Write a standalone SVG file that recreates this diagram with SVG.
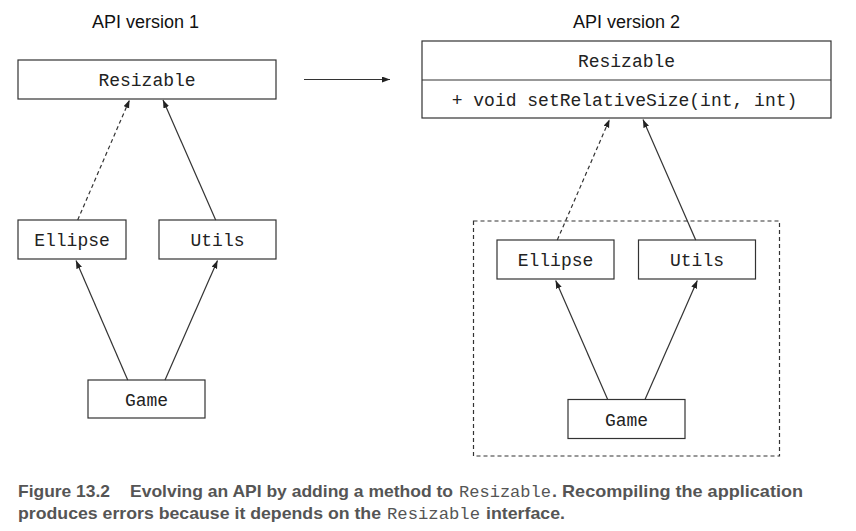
<svg xmlns="http://www.w3.org/2000/svg" width="856" height="531" viewBox="0 0 856 531">
<style>
.box{fill:#fff;stroke:#333;stroke-width:1.2}
.mono{font-family:"Liberation Mono","Courier New",monospace;font-size:18px;fill:#222;text-anchor:middle}
.title{font-family:"Liberation Sans",Arial,sans-serif;font-size:18px;fill:#111;text-anchor:middle}
.ln{fill:none;stroke:#333;stroke-width:1.2}
.dash{stroke-dasharray:4 3}
.cap{font-family:"Liberation Sans Narrow","Liberation Sans",Arial,sans-serif;font-weight:bold;font-size:17px;fill:#555}
.capm{font-family:"Liberation Mono","Courier New",monospace;font-size:16.5px;fill:#555}
</style>
<defs>
<marker id="ah" markerUnits="userSpaceOnUse" markerWidth="9" markerHeight="7" refX="8" refY="3" orient="auto">
<path d="M0,0 L8,3 L0,6 z" fill="#222"/>
</marker>
</defs>
<text class="title" x="145.5" y="27.5">API version 1</text>
<text class="title" x="626.5" y="27.5">API version 2</text>

<g id="resizable1"><rect class="box" x="18" y="60" width="258" height="39"/><text class="mono" x="147" y="86">Resizable</text></g>
<g id="ellipse1"><rect class="box" x="18" y="220" width="108" height="39"/><text class="mono" x="72" y="246">Ellipse</text></g>
<g id="utils1"><rect class="box" x="159" y="220" width="117" height="39"/><text class="mono" x="217.5" y="246">Utils</text></g>
<g id="game1"><rect class="box" x="88" y="380" width="117" height="38"/><text class="mono" x="146.5" y="405.5">Game</text></g>

<g id="container2"><rect x="473.5" y="221" width="306" height="235" fill="none" stroke="#333" stroke-width="1.2" stroke-dasharray="4 3"/></g>
<g id="resizable2"><rect class="box" x="422" y="41" width="409" height="77"/><line x1="422" y1="80" x2="831" y2="80" stroke="#333" stroke-width="1.2"/><text class="mono" x="626.5" y="66.5">Resizable</text><text class="mono" x="624.5" y="105.5">+ void setRelativeSize(int, int)</text></g>
<g id="ellipse2"><rect class="box" x="497" y="240" width="117" height="39"/><text class="mono" x="555.5" y="266">Ellipse</text></g>
<g id="utils2"><rect class="box" x="638.5" y="240" width="117" height="39"/><text class="mono" x="697" y="266">Utils</text></g>
<g id="game2"><rect class="box" x="568" y="399.5" width="117" height="39"/><text class="mono" x="626.5" y="425.5">Game</text></g>

<g id="connectors">
<line class="ln" x1="304" y1="79.5" x2="390" y2="79.5" marker-end="url(#ah)"/>
<line class="ln dash" x1="77.7" y1="220" x2="129.5" y2="100" marker-end="url(#ah)"/>
<line class="ln" x1="215.7" y1="220" x2="163" y2="100" marker-end="url(#ah)"/>
<line class="ln" x1="127.7" y1="380" x2="76" y2="260.5" marker-end="url(#ah)"/>
<line class="ln" x1="165" y1="380" x2="217.5" y2="260.5" marker-end="url(#ah)"/>
<line class="ln dash" x1="557.3" y1="240" x2="609.5" y2="119.5" marker-end="url(#ah)"/>
<line class="ln" x1="695.7" y1="240" x2="643" y2="119.5" marker-end="url(#ah)"/>
<line class="ln" x1="607.7" y1="399.5" x2="555.7" y2="280.5" marker-end="url(#ah)"/>
<line class="ln" x1="645" y1="399.5" x2="697.3" y2="280.5" marker-end="url(#ah)"/>
</g>

<g id="caption">
<text class="cap" x="18" y="497" textLength="92" lengthAdjust="spacingAndGlyphs">Figure 13.2</text>
<text class="cap" x="130" y="497" textLength="323" lengthAdjust="spacingAndGlyphs">Evolving an API by adding a method to</text>
<text class="capm" x="459" y="497" textLength="92" lengthAdjust="spacingAndGlyphs">Resizable</text>
<text class="cap" x="552" y="497" textLength="251" lengthAdjust="spacingAndGlyphs">. Recompiling the application</text>
<text class="cap" x="18" y="519" textLength="363" lengthAdjust="spacingAndGlyphs">produces errors because it depends on the</text>
<text class="capm" x="387" y="519" textLength="93" lengthAdjust="spacingAndGlyphs">Resizable</text>
<text class="cap" x="486" y="519" textLength="79" lengthAdjust="spacingAndGlyphs">interface.</text>
</g>
</svg>
